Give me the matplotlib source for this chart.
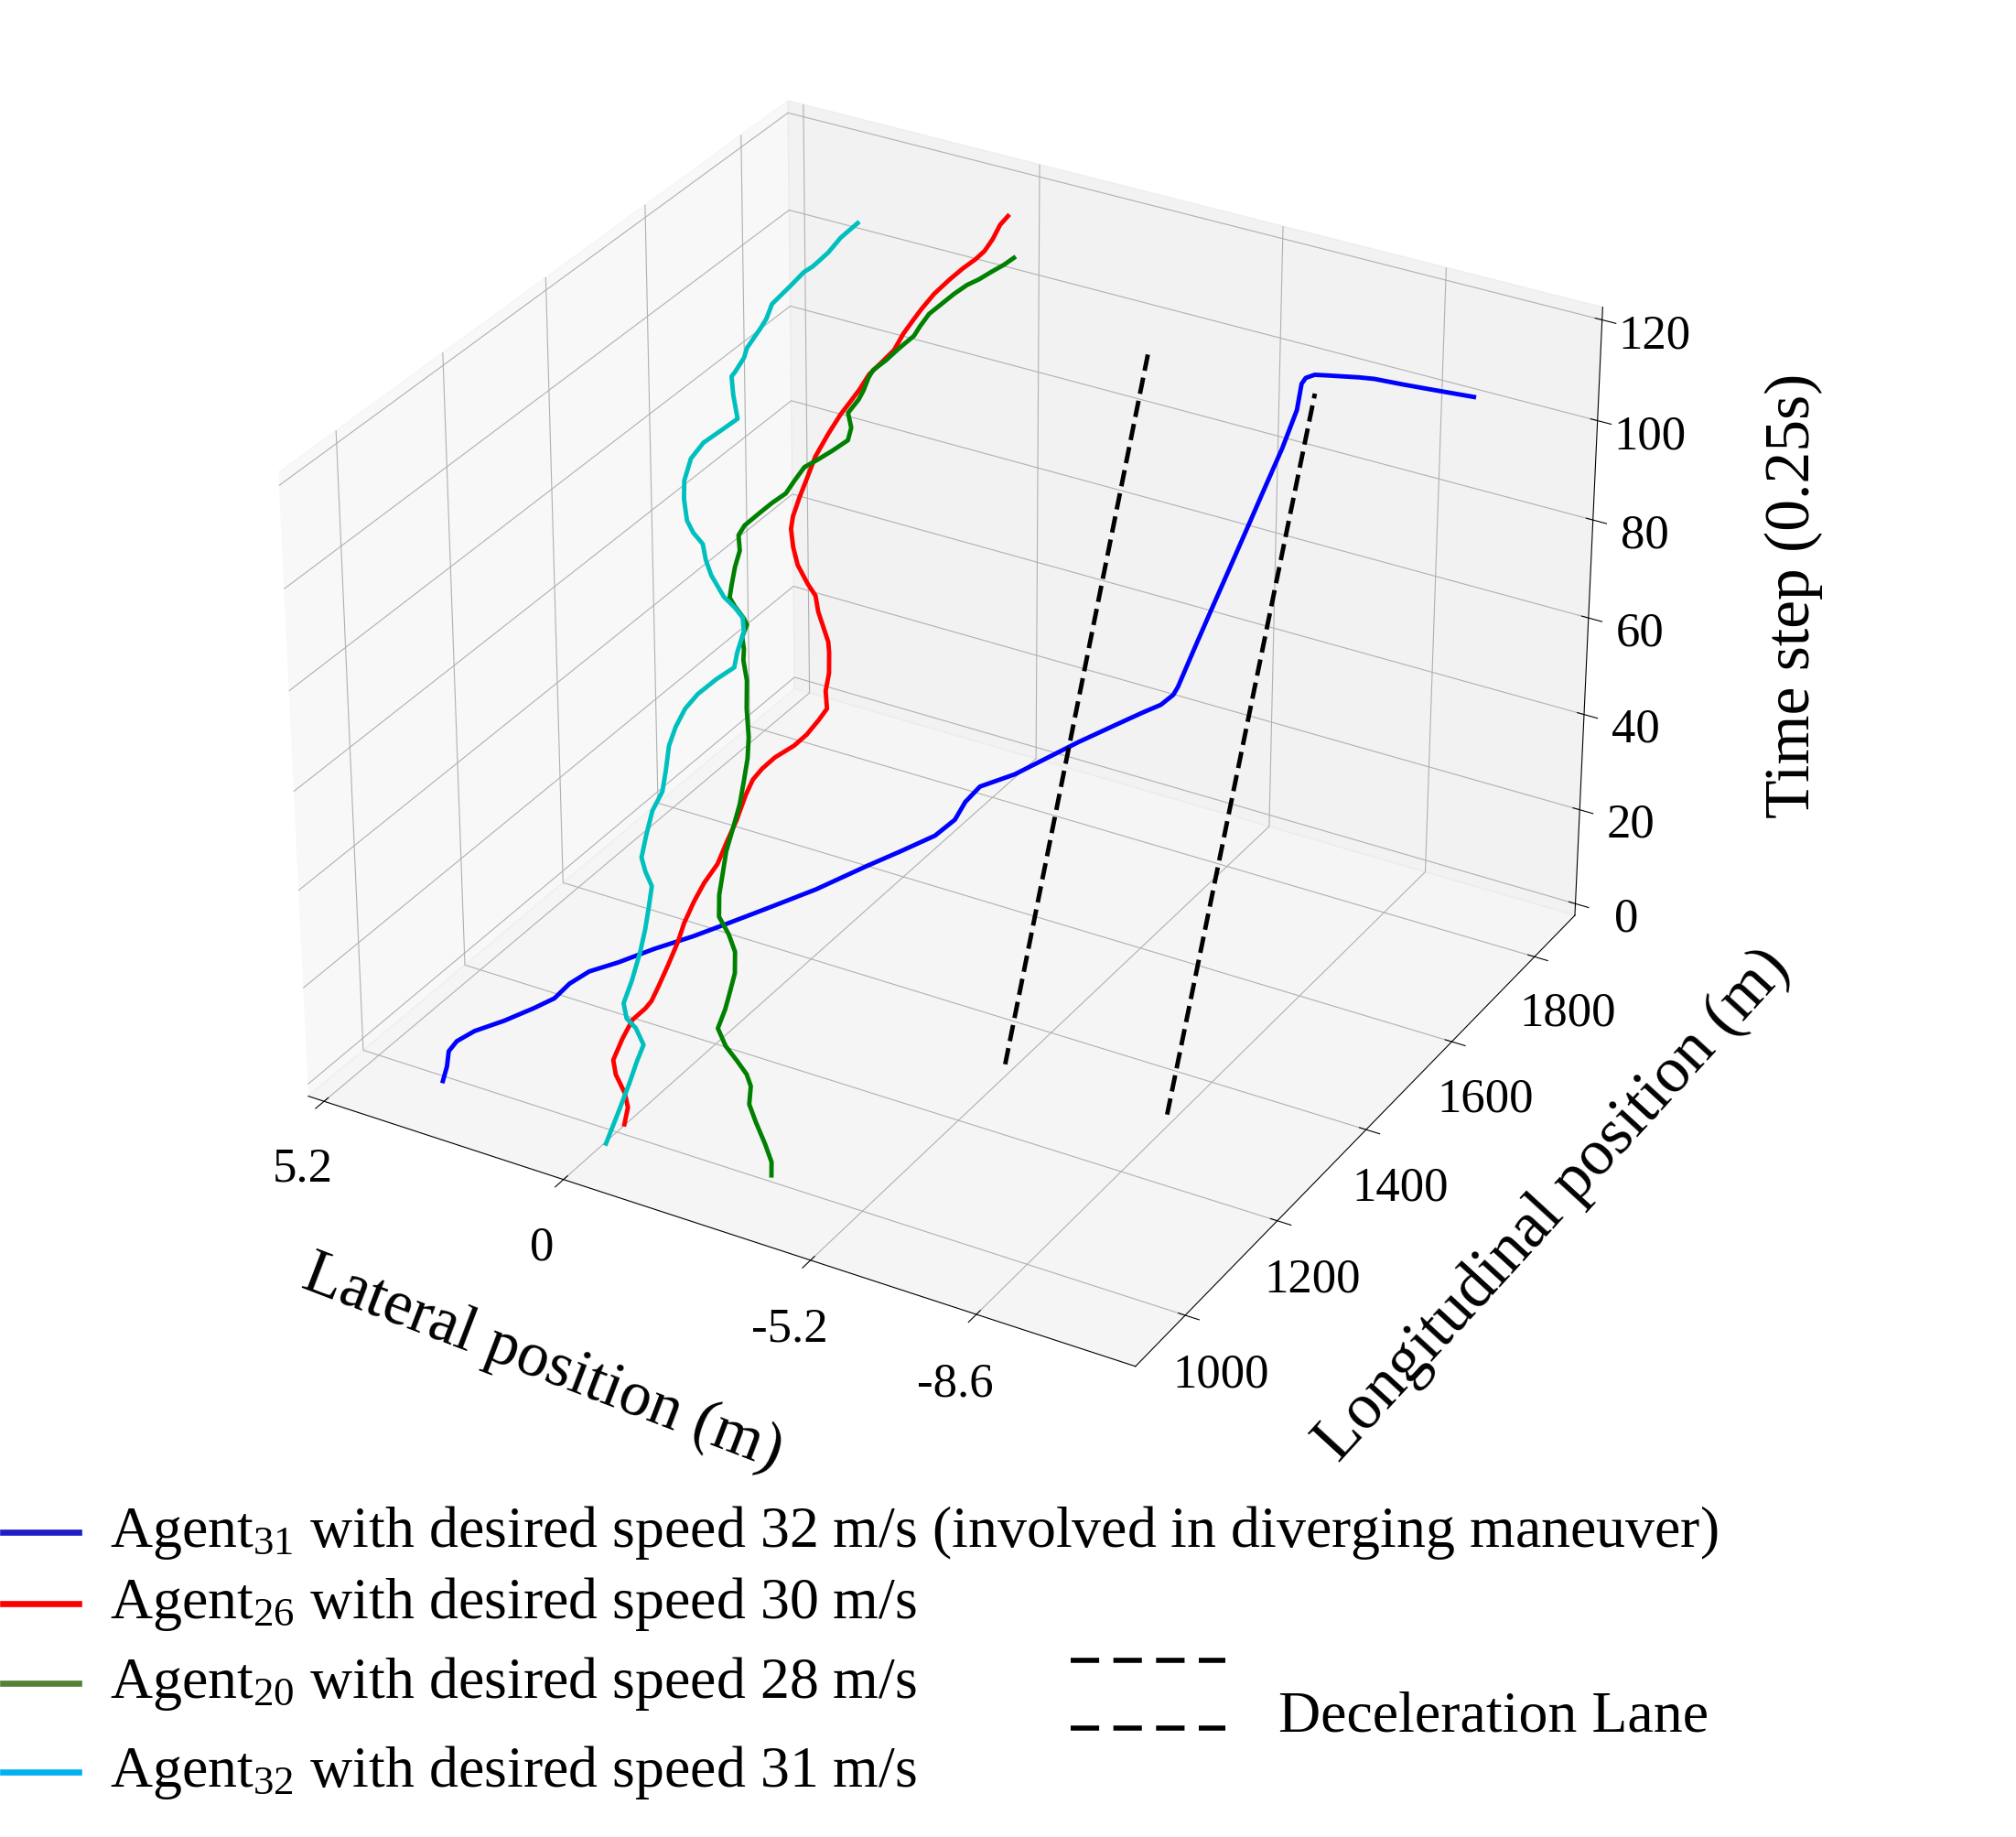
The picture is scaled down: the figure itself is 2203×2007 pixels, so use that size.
import matplotlib
matplotlib.use("Agg")
import matplotlib.pyplot as plt
from matplotlib.lines import Line2D

plt.rcParams['font.family'] = ['Liberation Serif', 'DejaVu Serif']
plt.rcParams['mathtext.fontset'] = 'custom'
plt.rcParams['mathtext.rm'] = 'Liberation Serif'
plt.rcParams['mathtext.it'] = 'Liberation Serif:italic'
try:
    plt.rcParams['axes3d.automargin'] = True  # old-style padding around the box
except KeyError:
    pass

# Agent 31 (diverging): time step / lateral (m) / longitudinal (m)
a31_t = [0.0, 1.7, 3.4, 4.8, 6.5, 8.6, 11.0, 12.7, 14.8, 16.8, 18.8, 21.4, 24.1, 26.6,
         29.6, 33.3, 37.4, 40.1, 43.0, 45.4, 47.6, 49.8, 52.2, 57.8, 61.1, 63.1, 64.5,
         66.0, 67.0, 71.5, 76.0, 81.2, 86.3, 91.6, 96.8, 101.5, 104.7, 105.5, 106.1,
         106.4, 107.0, 107.2, 107.4, 107.6, 107.8]
a31_lat = [3.46, 3.51, 3.61, 3.54, 3.29, 2.82, 2.36, 2.06, 1.90, 1.63, 1.15, 0.60, -0.03,
           -0.57, -1.19, -1.95, -2.69, -3.20, -3.72, -3.96, -4.00, -4.15, -4.69, -5.61,
           -6.20, -6.56, -6.83, -6.98, -7.00, -6.99, -6.99, -6.99, -6.99, -6.99, -6.99,
           -6.95, -6.83, -6.86, -7.00, -7.27, -7.83, -8.12, -8.71, -9.30, -10.08]
a31_lon = [972, 985, 998, 1008, 1021, 1037, 1055, 1069, 1085, 1100, 1115, 1135, 1155,
           1175, 1197, 1225, 1257, 1278, 1299, 1317, 1335, 1351, 1370, 1412, 1437, 1452,
           1463, 1474, 1482, 1517, 1551, 1591, 1630, 1670, 1710, 1746, 1769, 1775, 1780,
           1783, 1789, 1792, 1794, 1797, 1802]

# Agent 26
a26_t = [0.0, 2.0, 3.5, 5.3, 6.8, 9.5, 12.0, 13.7, 14.8, 16.7, 19.6, 22.4, 24.8, 27.6,
         30.0, 32.6, 35.4, 38.3, 41.5, 43.5, 45.1, 46.8, 48.8, 50.5, 52.7, 54.2, 56.2,
         58.4, 60.8, 62.0, 63.6, 65.2, 67.0, 68.1, 70.0, 71.9, 74.0, 75.5, 78.0, 80.2,
         83.4, 86.5, 89.2, 91.0, 92.8, 94.9, 96.7, 98.6, 100.9, 102.7, 104.5, 106.7,
         108.9, 110.6, 112.1, 113.4, 115.1, 117.1, 118.4]
a26_lat = [-0.20, -0.13, 0.04, 0.36, 0.53, 0.53, 0.49, 0.34, 0.28, 0.27, 0.26, 0.26, 0.29,
           0.28, 0.24, 0.14, 0.14, 0.13, 0.16, 0.15, 0.06, -0.09, -0.36, -0.51, -0.63,
           -0.69, -0.52, -0.44, -0.27, -0.17, 0.05, 0.27, 0.45, 0.70, 1.05, 1.29, 1.48,
           1.55, 1.58, 1.59, 1.61, 1.55, 1.47, 1.39, 1.31, 1.25, 1.11, 0.97, 0.92, 0.85,
           0.77, 0.65, 0.47, 0.31, 0.14, 0.03, -0.03, -0.06, -0.14]
a26_lon = [997, 1011, 1021, 1033, 1044, 1063, 1080, 1092, 1099, 1113, 1133, 1152, 1168,
           1188, 1205, 1223, 1242, 1262, 1284, 1298, 1309, 1321, 1335, 1347, 1361, 1372,
           1386, 1401, 1418, 1426, 1437, 1448, 1460, 1468, 1481, 1495, 1509, 1520, 1537,
           1552, 1574, 1596, 1614, 1627, 1639, 1654, 1666, 1680, 1695, 1708, 1720, 1735,
           1751, 1763, 1773, 1782, 1794, 1807, 1816]

# Agent 20
a20_t = [0.0, 1.5, 3.3, 5.5, 7.2, 9.3, 10.5, 11.7, 13.0, 14.7, 17.1, 18.9, 21.6, 24.1,
         25.9, 27.6, 30.1, 32.7, 35.4, 38.1, 41.3, 44.4, 47.0, 49.5, 52.8, 56.1, 58.4,
         59.7, 61.1, 62.7, 63.4, 64.5, 65.4, 66.9, 69.2, 71.3, 73.1, 74.5, 76.6, 78.2,
         79.7, 81.6, 83.5, 84.8, 86.4, 88.2, 89.8, 91.5, 93.5, 94.7, 96.4, 97.5, 99.1,
         100.9, 103.0, 104.4, 106.2, 107.8, 109.4, 110.9, 112.0, 113.3, 114.6, 115.7]
a20_lat = [-3.39, -3.29, -3.03, -2.69, -2.43, -2.32, -2.15, -1.86, -1.54, -1.25, -1.24,
           -1.21, -1.14, -0.98, -0.72, -0.40, -0.23, -0.13, -0.02, 0.03, 0.10, 0.21, 0.31,
           0.46, 0.73, 0.95, 1.18, 1.26, 1.39, 1.40, 1.51, 1.79, 1.95, 2.02, 2.10, 2.14,
           2.29, 2.25, 2.05, 1.89, 1.71, 1.64, 1.56, 1.37, 1.15, 0.93, 0.97, 1.15, 1.05,
           1.03, 1.04, 1.01, 0.84, 0.69, 0.49, 0.45, 0.37, 0.21, 0.05, -0.13, -0.32,
           -0.50, -0.69, -0.82]
a20_lon = [991, 1001, 1013, 1027, 1039, 1053, 1061, 1069, 1077, 1089, 1105, 1116, 1135,
           1151, 1163, 1174, 1191, 1208, 1226, 1244, 1266, 1286, 1303, 1320, 1342, 1364,
           1379, 1388, 1397, 1408, 1412, 1420, 1425, 1436, 1451, 1465, 1477, 1486, 1500,
           1510, 1521, 1533, 1546, 1554, 1565, 1577, 1588, 1599, 1612, 1620, 1632, 1639,
           1650, 1662, 1675, 1685, 1696, 1708, 1718, 1728, 1735, 1744, 1752, 1760]

# Agent 32
a32_t = [0.0, 4.3, 7.7, 10.4, 12.6, 14.2, 15.0, 16.6, 19.5, 23.1, 25.9, 28.5, 31.1, 32.6,
         34.1, 36.7, 39.9, 42.5, 45.2, 48.1, 50.6, 53.0, 55.2, 57.6, 59.6, 61.5, 64.2,
         65.8, 66.7, 67.6, 69.8, 71.4, 73.2, 74.2, 75.5, 78.0, 80.2, 83.1, 85.4, 87.6,
         89.5, 92.2, 94.4, 95.1, 97.1, 98.4, 101.2, 102.6, 104.6, 107.5, 109.5, 110.5,
         112.7, 114.9, 117.3]
a32_lat = [-0.25, -0.24, -0.22, -0.19, -0.19, 0.09, 0.34, 0.52, 0.54, 0.61, 0.69, 0.80,
           0.91, 1.14, 1.33, 1.42, 1.50, 1.46, 1.56, 1.70, 1.72, 1.69, 1.56, 1.32, 1.07,
           1.13, 1.17, 1.31, 1.54, 1.84, 2.26, 2.49, 2.68, 2.96, 3.18, 3.41, 3.56, 3.61,
           3.50, 3.24, 3.02, 3.31, 3.49, 3.46, 3.40, 3.42, 3.32, 3.28, 3.29, 3.07, 2.93,
           2.80, 2.61, 2.49, 2.27]
a32_lon = [956, 984, 1007, 1025, 1039, 1050, 1055, 1066, 1085, 1109, 1127, 1145, 1162,
           1171, 1181, 1199, 1220, 1237, 1254, 1274, 1290, 1307, 1321, 1337, 1350, 1362,
           1380, 1391, 1397, 1403, 1417, 1428, 1440, 1447, 1455, 1471, 1486, 1505, 1521,
           1535, 1547, 1566, 1580, 1585, 1598, 1606, 1625, 1634, 1647, 1666, 1680, 1687,
           1701, 1716, 1731]

# deceleration lane boundaries
lane_lat = [-5.2, -8.6]
lane_lon = [1300, 1600]
lane_t = [0, 120]

x_ticks = [5.2, 0, -5.2, -8.6]
x_ticklabels = ['5.2', '0', '-5.2', '-8.6']
y_ticks = [1000, 1200, 1400, 1600, 1800]
z_ticks = [0, 20, 40, 60, 80, 100, 120]

legend_labels = [
    r'Agent$_{31}$ with desired speed 32 m/s (involved in diverging maneuver)',
    r'Agent$_{26}$ with desired speed 30 m/s',
    r'Agent$_{20}$ with desired speed 28 m/s',
    r'Agent$_{32}$ with desired speed 31 m/s',
]
legend_colors = ['#1e1ec8', '#ff0000', '#548235', '#00b0f0']

fig = plt.figure(figsize=(22.03, 20.08), dpi=100)
ax = fig.add_axes([0.0978, 0.2055, 0.7304, 0.8013], projection='3d')
ax.view_init(elev=30, azim=-60)

ax.plot(a31_lat, a31_lon, a31_t, color='b', lw=3.5)
ax.plot(a26_lat, a26_lon, a26_t, color='r', lw=3.5)
ax.plot(a20_lat, a20_lon, a20_t, color='g', lw=3.5)
ax.plot(a32_lat, a32_lon, a32_t, color='c', lw=3.5)
for lat in lane_lat:
    ax.plot([lat, lat], lane_lon, lane_t, color='k', ls='--', lw=3.5)

ax.set_xlim(5.2, -11.45)
ax.set_ylim(915, 1880)
ax.set_zlim(0, 120)
ax.set_xticks(x_ticks)
ax.set_xticklabels(x_ticklabels)
ax.set_yticks(y_ticks)
ax.set_zticks(z_ticks)
ax.tick_params(labelsize=38)
ax.tick_params(axis='x', pad=18)
ax.tick_params(axis='y', pad=17)
ax.tick_params(axis='z', pad=17)

# axis titles placed by hand so they sit where the original has them
fig.text(0.2689, 0.258, 'Lateral position (m)', fontsize=50, rotation=-21,
         ha='center', va='center', rotation_mode='anchor')
fig.text(0.7706, 0.3441, 'Longitudinal position (m)', fontsize=51, rotation=47.5,
         ha='center', va='center', rotation_mode='anchor')
fig.text(0.8897, 0.6758, 'Time step (0.25s)', fontsize=50, rotation=90,
         ha='center', va='center', rotation_mode='anchor')

# legend drawn by hand below the axes
line_y = [0.1658, 0.1270, 0.0837, 0.0354]
for y, lab, col in zip(line_y, legend_labels, legend_colors):
    fig.add_artist(Line2D([0.0014, 0.039], [y, y], color=col, lw=4.8))
    fig.text(0.0545, y - 0.0075, lab, fontsize=46, va='baseline', ha='left')
for y in [0.0961, 0.0593]:
    fig.add_artist(Line2D([0.531, 0.608], [y, y], color='k', lw=4, ls=(0, (5.6, 2.8))))
fig.text(0.634, 0.0578, 'Deceleration Lane', fontsize=46, va='baseline', ha='left')

fig.savefig('out.png', dpi=100)
